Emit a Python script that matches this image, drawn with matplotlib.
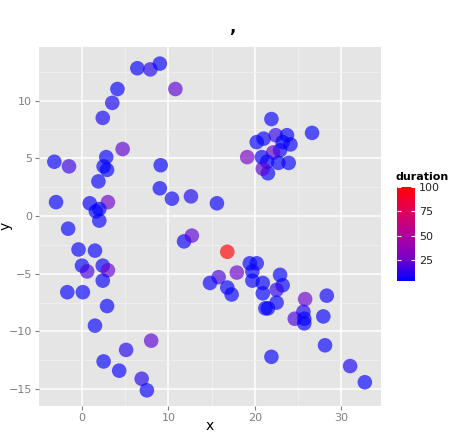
"""Scatter of x vs y coloured by duration, ggplot-like look."""
import matplotlib
matplotlib.use("Agg")
import matplotlib.pyplot as plt
import matplotlib.cm as cm
from matplotlib.colors import LinearSegmentedColormap, Normalize

x = [6.4, 7.9, 9.0, 10.8, 4.1, 3.5, 2.4, 4.7, 2.8, -3.2, -1.5, 2.5, 2.9, 1.9,
     9.1, -3.0, 0.9, 3.0, 2.0, 1.6, 2.0, -1.6, 9.0, 10.4, 12.6, 15.6, -0.4,
     1.5, 0.0, 0.6, 2.4, 3.0, 2.4, -1.7, 0.1, 2.9, 1.5, 8.0, 5.1, 2.5, 4.3,
     6.9, 7.5,
     21.9, 26.6, 19.1, 20.2, 21.0, 22.4, 23.7, 23.2, 24.1, 22.9, 20.8, 22.1,
     21.4, 22.7, 23.9, 21.5, 20.9,
     11.8, 12.7, 16.8, 19.4, 20.2, 19.7, 17.9, 15.8, 14.8, 16.8, 17.3, 19.7,
     20.9, 20.9, 22.9, 23.2, 22.5, 22.5, 21.2, 21.5, 25.8, 28.3, 25.6, 24.6,
     25.7, 25.7, 27.9, 28.1, 21.9, 31.0, 32.7]
y = [12.8, 12.7, 13.2, 11.0, 11.0, 9.8, 8.5, 5.8, 5.1, 4.7, 4.3, 4.3, 4.0, 3.0,
     4.4, 1.2, 1.1, 1.2, 0.6, 0.4, -0.4, -1.1, 2.4, 1.5, 1.7, 1.1, -2.9,
     -3.0, -4.3, -4.8, -4.3, -4.7, -5.6, -6.6, -6.6, -7.8, -9.5, -10.8, -11.6,
     -12.6, -13.4, -14.1, -15.1,
     8.4, 7.2, 5.1, 6.4, 6.7, 7.0, 7.0, 6.4, 6.2, 5.7, 5.1, 5.5,
     4.7, 4.6, 4.6, 3.7, 4.1,
     -2.2, -1.7, -3.1, -4.1, -4.1, -4.8, -4.9, -5.3, -5.8, -6.2, -6.8, -5.6,
     -5.8, -6.7, -5.1, -6.0, -6.4, -7.5, -8.0, -8.0, -7.2, -6.9, -8.3, -8.9,
     -8.9, -9.3, -8.7, -11.2, -12.2, -13.0, -14.4]
duration = [5, 11, 5, 22, 5, 8, 8, 22, 5, 5, 15, 5, 4, 5,
            5, 5, 5, 25, 4, 4, 6, 5, 5, 6, 9, 5, 5,
            5, 4, 18, 5, 25, 5, 5, 5, 5, 5, 22, 11, 5, 5,
            11, 5,
            5, 5, 28, 5, 5, 14, 5, 4, 5, 5, 5, 22,
            4, 5, 5, 5, 22,
            5, 22, 100, 5, 5, 5, 25, 18, 5, 5, 5, 5,
            5, 5, 4, 5, 14, 5, 4, 4, 25, 6, 9, 18,
            4, 5, 5, 5, 5, 9, 5]

cbar_ticks = [25, 50, 75, 100]

cmap = LinearSegmentedColormap.from_list(
    "bluered", ["#0000FF", "#7A00C8", "#B4009C", "#E0005A", "#FF0000"])
norm = Normalize(vmin=min(duration), vmax=100)

fig = plt.figure(figsize=(4.57, 4.34), dpi=100)
ax = fig.add_axes([39 / 457, 1 - 406 / 434, 342 / 457, 359 / 434])
ax.set_facecolor("#E5E5E5")
for s in ax.spines.values():
    s.set_visible(False)

ax.set_xlim(-4.97, 34.57)
ax.set_ylim(-16.46, 14.64)
ax.set_xticks([0, 10, 20, 30])
ax.set_yticks([-15, -10, -5, 0, 5, 10])
ax.set_xticks([5, 15, 25], minor=True)
ax.set_yticks([-12.5, -7.5, -2.5, 2.5, 7.5, 12.5], minor=True)
ax.grid(which="major", color="white", linewidth=1.1)
ax.grid(which="minor", color="#F2F2F2", linewidth=0.5)
ax.set_axisbelow(True)
ax.tick_params(which="major", length=3, color="#7F7F7F", labelcolor="#7F7F7F",
               labelsize=8, pad=2)
ax.tick_params(which="minor", length=0)

ax.scatter(x, y, c=duration, cmap=cmap, norm=norm,
           s=110, alpha=0.65, linewidths=0)

fig.text(232 / 457, 1 - 27 / 434, ",", ha="center", va="center",
         fontsize=12, fontweight="bold")
fig.text(210 / 457, 1 / 434, "x", ha="center", va="bottom", fontsize=10)
fig.text(6 / 457, 1 - 226 / 434, "y", ha="center", va="center",
         rotation=90, fontsize=10)

cax = fig.add_axes([397 / 457, 1 - 281 / 434, 18 / 457, 94 / 434])
cb = fig.colorbar(cm.ScalarMappable(norm=norm, cmap=cmap), cax=cax,
                  ticks=cbar_ticks)
cb.outline.set_visible(False)
cax.tick_params(length=0, labelsize=8, labelcolor="#222222", pad=3)
cax.hlines(cbar_ticks, 0, 0.2, color="white", linewidth=0.8)
cax.hlines(cbar_ticks, 0.8, 1, color="white", linewidth=0.8)
fig.text(396 / 457, 1 - 177 / 434, "duration", ha="left", va="center",
         fontsize=8, fontweight="bold")

fig.savefig("out.png", dpi=100)
